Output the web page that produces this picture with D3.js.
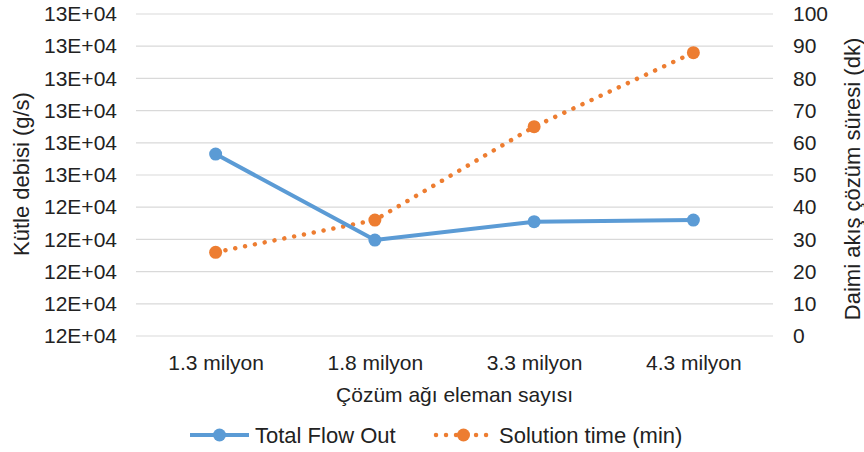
<!DOCTYPE html>
<html>
<head>
<meta charset="utf-8">
<script src="https://cdn.jsdelivr.net/npm/d3@7"></script>
<style>
  body { margin: 0; background: #fff; }
  svg text { font-family: "Liberation Sans", Arial, sans-serif; fill: #222; }
</style>
</head>
<body>
<svg id="chart"></svg>
<script>
// data
const categories = ["1.3 milyon", "1.8 milyon", "3.3 milyon", "4.3 milyon"];
const flowOut = [125065, 124798, 124855, 124860];   // Total Flow Out (left axis)
const solutionTime = [26, 36, 65, 88];               // Solution time (min) (right axis)
const leftTicks = [124500, 124600, 124700, 124800, 124900, 125000, 125100, 125200, 125300, 125400, 125500];
const rightTicks = [0, 10, 20, 30, 40, 50, 60, 70, 80, 90, 100];
const seriesNames = ["Total Flow Out", "Solution time (min)"];

const width = 864, height = 452;
const margin = { top: 14, right: 91, bottom: 116, left: 136 };
const innerW = width - margin.left - margin.right;
const innerH = height - margin.top - margin.bottom;
const blue = "#5b9bd5", orange = "#ed7d31";

const svg = d3.select("#chart").attr("width", width).attr("height", height);
const g = svg.append("g").attr("transform", `translate(${margin.left},${margin.top})`);

const x = d3.scalePoint().domain(categories).range([0, innerW]).padding(0.5);
const yL = d3.scaleLinear().domain([124500, 125500]).range([innerH, 0]);
const yR = d3.scaleLinear().domain([0, 100]).range([innerH, 0]);

// gridlines
g.append("g").selectAll("line")
  .data(leftTicks)
  .join("line")
  .attr("x1", 0).attr("x2", innerW)
  .attr("y1", d => yL(d)).attr("y2", d => yL(d))
  .attr("stroke", "#d9d9d9").attr("stroke-width", 1.2);

// axes
const fmtE = v => Math.round(v / 1e4) + "E+04";
const axL = g.append("g")
  .call(d3.axisLeft(yL).tickValues(leftTicks).tickFormat(fmtE).tickSize(0).tickPadding(19));
const axR = g.append("g").attr("transform", `translate(${innerW},0)`)
  .call(d3.axisRight(yR).tickValues(rightTicks).tickSize(0).tickPadding(20));
const axB = g.append("g").attr("transform", `translate(0,${innerH})`)
  .call(d3.axisBottom(x).tickSize(0).tickPadding(19));
[axL, axR, axB].forEach(a => {
  a.select(".domain").remove();
  a.selectAll("text").style("font-size", "21px").attr("font-family", null);
});

// axis titles
svg.append("text")
  .attr("transform", `translate(29,174) rotate(-90)`)
  .attr("text-anchor", "middle").style("font-size", "22px")
  .text("Kütle debisi (g/s)");
svg.append("text")
  .attr("transform", `translate(860,179) rotate(-90)`)
  .attr("text-anchor", "middle").style("font-size", "22px")
  .text("Daimi akış çözüm süresi (dk)");
svg.append("text")
  .attr("x", margin.left + innerW / 2).attr("y", 402)
  .attr("text-anchor", "middle").style("font-size", "21px")
  .text("Çözüm ağı eleman sayısı");

// series
const flowData = categories.map((c, i) => ({ c, v: flowOut[i] }));
const timeData = categories.map((c, i) => ({ c, v: solutionTime[i] }));

g.append("path")
  .datum(timeData)
  .attr("d", d3.line().x(d => x(d.c)).y(d => yR(d.v)))
  .attr("fill", "none").attr("stroke", orange).attr("stroke-width", 4.5)
  .attr("stroke-linecap", "round").attr("stroke-dasharray", "0.01 10");
g.append("g").selectAll("circle")
  .data(timeData).join("circle")
  .attr("cx", d => x(d.c)).attr("cy", d => yR(d.v)).attr("r", 6.5)
  .attr("fill", orange);

g.append("path")
  .datum(flowData)
  .attr("d", d3.line().x(d => x(d.c)).y(d => yL(d.v)))
  .attr("fill", "none").attr("stroke", blue).attr("stroke-width", 4)
  .attr("stroke-linejoin", "round");
g.append("g").selectAll("circle")
  .data(flowData).join("circle")
  .attr("cx", d => x(d.c)).attr("cy", d => yL(d.v)).attr("r", 6.5)
  .attr("fill", blue);

// legend
const legY = 435;
const leg = svg.append("g");
const items = [
  { name: seriesNames[0], color: blue, x0: 190, dashed: false },
  { name: seriesNames[1], color: orange, x0: 434, dashed: true }
];
items.forEach(it => {
  const l = leg.append("line")
    .attr("x1", it.x0 + (it.dashed ? 2 : 0)).attr("x2", it.x0 + (it.dashed ? 57 : 59))
    .attr("y1", legY).attr("y2", legY)
    .attr("stroke", it.color).attr("stroke-width", it.dashed ? 4.5 : 4);
  if (it.dashed) l.attr("stroke-linecap", "round").attr("stroke-dasharray", "0.01 10");
  leg.append("circle").attr("cx", it.x0 + 29.5).attr("cy", legY).attr("r", 6.5).attr("fill", it.color);
  leg.append("text").attr("x", it.x0 + 65).attr("y", legY + 8)
    .style("font-size", "22px").text(it.name);
});
</script>
</body>
</html>
